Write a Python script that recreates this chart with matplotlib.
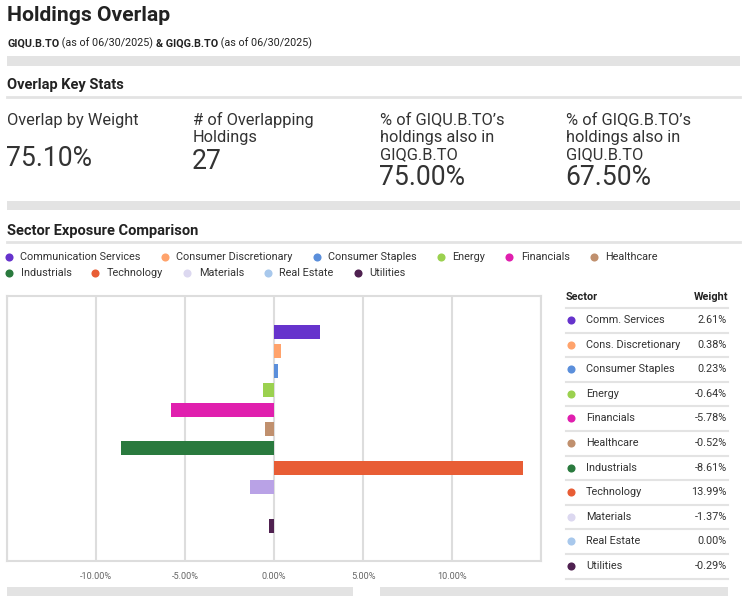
import matplotlib
matplotlib.use("Agg")
import matplotlib.pyplot as plt
import numpy as np

# data
legend_names = ["Communication Services", "Consumer Discretionary", "Consumer Staples",
                "Energy", "Financials", "Healthcare", "Industrials", "Technology",
                "Materials", "Real Estate", "Utilities"]
table_names = ["Comm. Services", "Cons. Discretionary", "Consumer Staples", "Energy",
               "Financials", "Healthcare", "Industrials", "Technology", "Materials",
               "Real Estate", "Utilities"]
weights = [2.61, 0.38, 0.23, -0.64, -5.78, -0.52, -8.61, 13.99, -1.37, 0.00, -0.29]
xticks = [-15, -10, -5, 0, 5, 10, 15]

stat_labels = ["Overlap by Weight", "# of Overlapping\nHoldings",
               "% of GIQU.B.TO\u2019s\nholdings also in\nGIQG.B.TO",
               "% of GIQG.B.TO\u2019s\nholdings also in\nGIQU.B.TO"]
stat_values = ["75.10%", "27", "75.00%", "67.50%"]

bar_colors = ["#6633cc", "#ffa36c", "#5b8fdb", "#9bd14f", "#e01fae", "#c0906e",
              "#2a7a3e", "#e85d35", "#b9a2e6", "#a8c8ec", "#4f2150"]
dot_colors = bar_colors[:8] + ["#dcd8f0", "#a8c8ec", "#4f2150"]

plt.rcParams['font.family'] = ['Roboto', 'DejaVu Sans']
DARK = "#222222"
BAND = "#e3e3e3"

fig = plt.figure(figsize=(7.42, 5.96), dpi=100)
W, H = 742, 596

# overlay axes in pixel coordinates (y down)
ax0 = fig.add_axes([0, 0, 1, 1])
ax0.set_xlim(0, W)
ax0.set_ylim(H, 0)
ax0.axis('off')
renderer = fig.canvas.get_renderer()


def px(v):
    return v * 72 / 100


def text_w(t):
    return t.get_window_extent(renderer).width


# header
ax0.text(7, 21, "Holdings Overlap", fontsize=px(21.2), fontweight='bold',
         color=DARK, va='baseline')
x = 7
for seg, bold in [("GIQU.B.TO", True), (" (as of 06/30/2025) ", False),
                  ("& GIQG.B.TO", True), (" (as of 06/30/2025)", False)]:
    t = ax0.text(x, 46.5, seg, fontsize=px(10.8), color=DARK, va='baseline',
                 fontweight='bold' if bold else 'normal')
    x += text_w(t)

ax0.fill_between([7, 740], 56, 66, color=BAND, lw=0)
ax0.text(7, 89.5, "Overlap Key Stats", fontsize=px(14.6), fontweight='bold',
         color=DARK, va='baseline')
ax0.plot([7, 740], [97, 97], color=BAND, lw=2)

# key stats
stat_x = [7, 193, 380, 566]
for sx, lab, val in zip(stat_x, stat_labels, stat_values):
    lines = lab.split("\n")
    for i, ln in enumerate(lines):
        ax0.text(sx, 124.5 + i * 17.5, ln, fontsize=px(16.4), color="#333333",
                 va='baseline')
    vy = {1: 166.5, 2: 169, 3: 185}[len(lines)]
    ax0.text(sx - 1, vy, val, fontsize=px(26.5), color="#333333", va='baseline')

ax0.fill_between([7, 740], 201, 210, color=BAND, lw=0)
ax0.text(7, 234.5, "Sector Exposure Comparison", fontsize=px(14.6),
         fontweight='bold', color=DARK, va='baseline')
ax0.plot([7, 740], [242, 242], color=BAND, lw=2)

# legend
x, y = 9, 257
for i, (name, c) in enumerate(zip(legend_names, dot_colors)):
    if i == 6:
        x, y = 9, 273
    ax0.scatter([x], [y], s=34, color=c, lw=0)
    t = ax0.text(x + 11.5, y, name, fontsize=px(10.9), color="#333333",
                 va='center')
    x += 11.5 + text_w(t) + 24

# bar chart
ax = fig.add_axes([7 / W, 1 - 561 / H, 534 / W, 265 / H])
ypos = np.arange(len(weights))
ax.barh(ypos, weights, height=0.72, color=bar_colors)
ax.set_xlim(-15, 15)
ax.set_ylim(11.8, -1.85)
ax.set_yticks([])
ax.set_xticks(xticks)
ax.set_xticklabels(["" if abs(v) == 15 else f"{v:.2f}%" for v in xticks],
                   fontsize=px(9.2), color="#666666")
ax.tick_params(axis='x', length=0, pad=8)
ax.grid(axis='x', color="#dddddd", lw=1.5)
ax.set_axisbelow(True)
for s in ax.spines.values():
    s.set_color("#dddddd")
    s.set_linewidth(1.5)

# table
ax0.text(566, 300, "Sector", fontsize=px(10.9), fontweight='bold', color=DARK,
         va='baseline')
ax0.text(728, 300, "Weight", fontsize=px(10.9), fontweight='bold', color=DARK,
         va='baseline', ha='right')
ax0.plot([566, 728], [307.5, 307.5], color="#e3e3e3", lw=1.5)
for i, (name, w, c) in enumerate(zip(table_names, weights, dot_colors)):
    ry = 320 + i * 24.6
    ax0.scatter([571], [ry], s=34, color=c, lw=0)
    ax0.text(586, ry, name, fontsize=px(10.9), color="#333333", va='center')
    ax0.text(727, ry, f"{w:.2f}%", fontsize=px(10.9), color="#333333",
             va='center', ha='right')
    ax0.plot([566, 728], [ry + 12.5, ry + 12.5], color="#e3e3e3", lw=1.5)

# bottom bands
ax0.fill_between([7, 353], 587, 596, color=BAND, lw=0)
ax0.fill_between([380, 728], 587, 596, color=BAND, lw=0)

fig.savefig("out.png", dpi=100)
